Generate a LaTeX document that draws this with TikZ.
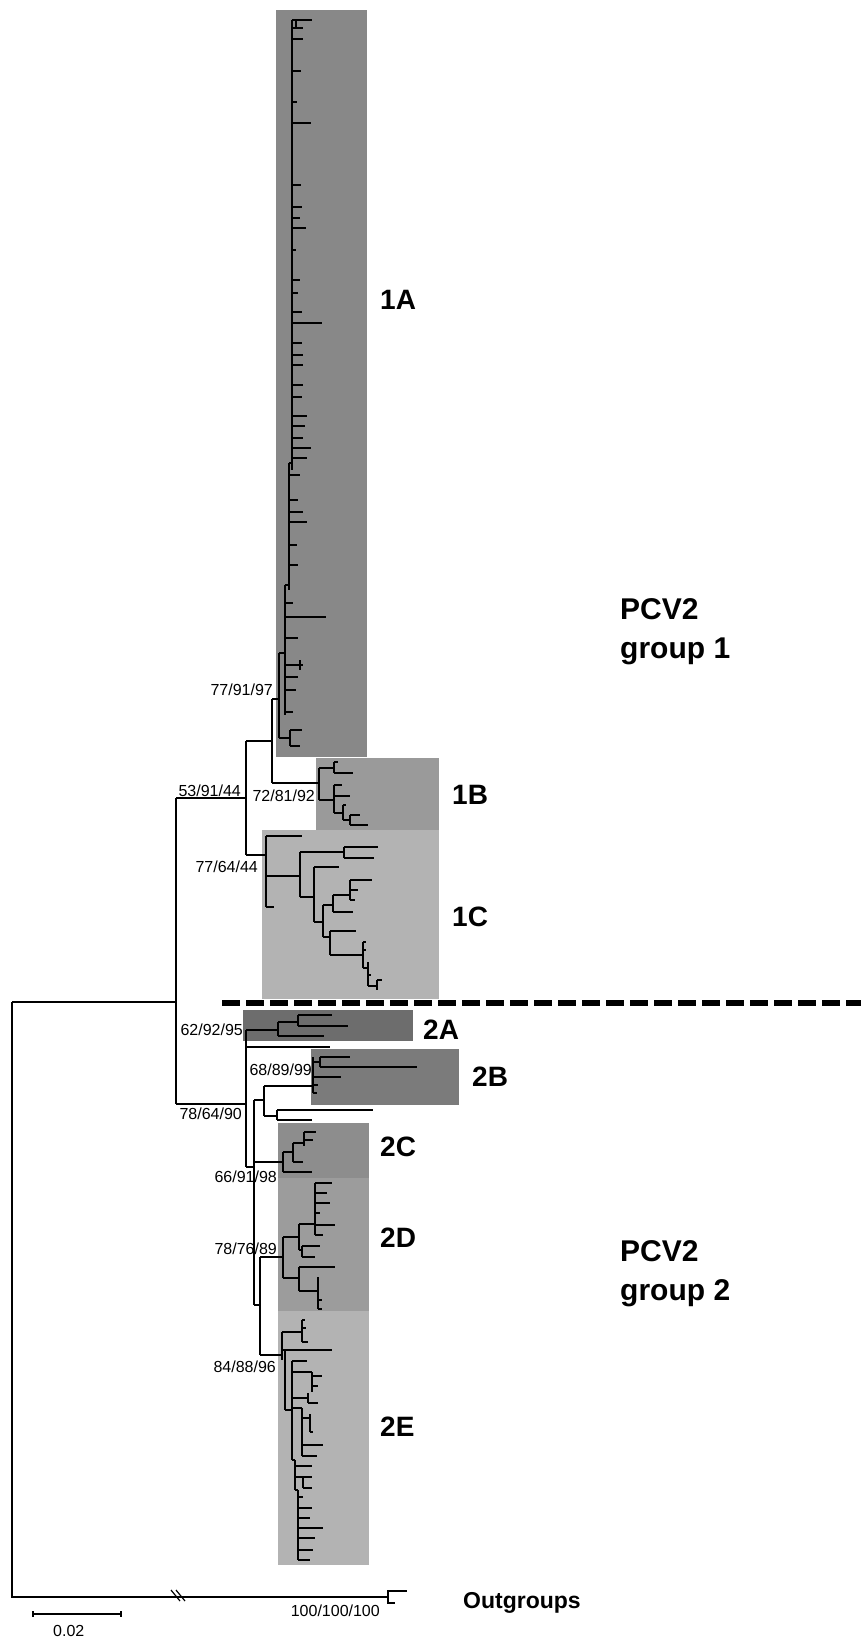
\documentclass[tikz,border=0pt]{standalone}
\usepackage{fontspec}
\setmainfont{Liberation Sans}
\usetikzlibrary{positioning}
\definecolor{shadeIA}{HTML}{888888}
\definecolor{shadeIB}{HTML}{9A9A9A}
\definecolor{shadeIC}{HTML}{B3B3B3}
\definecolor{shadeIIA}{HTML}{6D6D6D}
\definecolor{shadeIIB}{HTML}{7B7B7B}
\definecolor{shadeIIC}{HTML}{8D8D8D}
\definecolor{shadeIID}{HTML}{9C9C9C}
\definecolor{shadeIIE}{HTML}{B3B3B3}
\begin{document}
\begin{tikzpicture}[x=1pt,y=-1pt,
tree/.style={line width=1.7pt},
boot/.style={font=\fontsize{16}{18}\selectfont,inner sep=0pt,anchor=base east},
clabel/.style={font=\fontsize{28}{30}\selectfont\bfseries,inner sep=0pt,anchor=west},
grp/.style={font=\fontsize{30}{39}\selectfont\bfseries,inner sep=0pt,anchor=west,align=left}]
\useasboundingbox (0,0) rectangle (861,1640);
% clade boxes
\fill[shadeIA] (276,10) rectangle (367,757);
\fill[shadeIB] (316,758) rectangle (439,830);
\fill[shadeIC] (262,830) rectangle (439,999);
\fill[shadeIIA] (243,1010) rectangle (413,1041);
\fill[shadeIIB] (311,1049) rectangle (459,1105);
\fill[shadeIIC] (278,1123) rectangle (369,1178);
\fill[shadeIID] (278,1178) rectangle (369,1311);
\fill[shadeIIE] (278,1311) rectangle (369,1565);
% backbone
\coordinate (root) at (12,1002);
\coordinate (ingrp) at (176,1002);
\coordinate (outg) at (388,1597);
\draw[tree] (root) -- (ingrp);
\draw[tree] (root) |- (outg);
\draw[tree] (176,798) -- (176,1104);
\draw[line width=1.2pt] (171,1590) -- (180,1601) (176,1590) -- (185,1601);
\draw[tree] (outg) -- (388,1591) -- (407,1591) (outg) -- (388,1603) -- (395,1603);
% group 1
\draw[tree] (176,798) -- (246,798) (246,741) -- (246,855);
\draw[tree] (246,741) -- (272,741) (272,699) -- (272,783) (272,699) -- (279,699);
\draw[tree] (279,653) -- (279,738) (279,653) -- (285,653) (285,585) -- (285,715);
\draw[tree] (285,585) -- (289,585) (289,463) -- (289,590) (289,463) -- (292,463) (292,20) -- (292,470);
\draw[line width=2.6pt] (292,130) -- (292,175) (292,400) -- (292,460) (289,470) -- (289,560) (285,600) -- (285,650);
\foreach \y/\x in {20/312,28/303,39/303,71/301,102/297,123/311,185/301,207/302,218/300,
  228/306,250/296,280/300,293/298,312/302,323/322,343/302,355/303,365/303,385/303,397/302,
  416/307,426/305,438/303,448/311,458/307}
  \draw[tree] (292,\y) -- (\x,\y);
\draw[tree] (296,20) -- (296,28);
\foreach \y/\x in {475/300,500/298,512/303,522/307,545/297,565/298}
  \draw[tree] (289,\y) -- (\x,\y);
\foreach \y/\x in {603/293,617/326,638/298,665/303,677/298,690/296,712/293}
  \draw[tree] (285,\y) -- (\x,\y);
\draw[tree] (300,660) -- (300,670);
\draw[tree] (279,738) -- (290,738) (290,730) -- (290,746) (290,730) -- (302,730) (290,746) -- (300,746);
% 1B
\draw[tree] (272,783) -- (319,783) (319,768) -- (319,800);
\draw[tree] (319,768) -- (334,768) (334,762) -- (334,773) (334,762) -- (338,762) (334,773) -- (353,773);
\draw[tree] (319,800) -- (334,800) (334,785) -- (334,813) (334,785) -- (342,785) (334,796) -- (350,796);
\draw[tree] (334,813) -- (343,813) (343,805) -- (343,820) (343,805) -- (346,805) (343,820) -- (350,820);
\draw[tree] (350,815) -- (350,825) (350,815) -- (360,815) (350,825) -- (368,825);
% 1C
\draw[tree] (246,855) -- (266,855) (266,836) -- (266,907);
\draw[tree] (266,836) -- (302,836) (266,907) -- (274,907) (266,876) -- (300,876);
\draw[tree] (300,852) -- (300,897) (300,852) -- (344,852) (344,847) -- (344,858);
\draw[tree] (344,847) -- (378,847) (344,858) -- (374,858);
\draw[tree] (300,897) -- (314,897) (314,867) -- (314,922) (314,867) -- (339,867) (314,922) -- (323,922);
\draw[tree] (323,905) -- (323,937) (323,905) -- (333,905) (333,895) -- (333,912) (333,912) -- (353,912);
\draw[tree] (333,895) -- (350,895) (350,880) -- (350,900) (350,880) -- (372,880) (350,890) -- (358,890) (350,900) -- (355,900);
\draw[tree] (323,937) -- (330,937) (330,931) -- (330,955) (330,931) -- (356,931) (330,955) -- (363,955);
\draw[tree] (363,942) -- (363,968) (363,942) -- (366,942) (363,950) -- (366,950) (363,968) -- (368,968);
\draw[tree] (368,962) -- (368,986) (368,975) -- (371,975) (368,986) -- (377,986) (377,980) -- (377,990) (377,980) -- (382,980);
% group 2
\draw[tree] (176,1104) -- (246,1104) (246,1030) -- (246,1167);
\draw[tree] (246,1030) -- (278,1030) (278,1022) -- (278,1036) (278,1036) -- (324,1036);
\draw[tree] (278,1022) -- (298,1022) (298,1015) -- (298,1026) (298,1015) -- (332,1015) (298,1026) -- (348,1026);
\draw[tree] (246,1047) -- (330,1047);
\draw[tree] (246,1167) -- (254,1167) (254,1100) -- (254,1305);
\draw[line width=2.8pt] (254,1180) -- (254,1240);
% 2B and neighbours
\draw[tree] (254,1100) -- (264,1100) (264,1086) -- (264,1116) (264,1086) -- (313,1086) (313,1057) -- (313,1093);
\draw[tree] (313,1062) -- (320,1062) (320,1057) -- (320,1067) (320,1057) -- (350,1057) (320,1067) -- (417,1067);
\draw[tree] (313,1077) -- (341,1077) (313,1085) -- (318,1085) (313,1093) -- (317,1093);
\draw[tree] (264,1116) -- (277,1116) (277,1110) -- (277,1120) (277,1110) -- (373,1110) (277,1120) -- (312,1120);
% 2C
\draw[tree] (254,1162) -- (283,1162) (283,1152) -- (283,1172) (283,1172) -- (312,1172);
\draw[tree] (283,1152) -- (293,1152) (293,1143) -- (293,1162) (293,1162) -- (303,1162);
\draw[tree] (293,1143) -- (304,1143) (304,1132) -- (304,1146) (304,1132) -- (316,1132) (304,1140) -- (313,1140);
% 2D
\draw[tree] (254,1305) -- (260,1305) (260,1257) -- (260,1355) (260,1257) -- (283,1257) (283,1237) -- (283,1278);
\draw[tree] (283,1237) -- (299,1237) (299,1224) -- (299,1250) (299,1224) -- (315,1224) (315,1183) -- (315,1235);
\foreach \y/\x in {1183/332,1193/327,1203/330,1213/320,1225/335,1235/323}
  \draw[tree] (315,\y) -- (\x,\y);
\draw[tree] (299,1250) -- (302,1250) (302,1246) -- (302,1257) (302,1246) -- (320,1246) (302,1257) -- (315,1257);
\draw[tree] (283,1278) -- (299,1278) (299,1267) -- (299,1291) (299,1267) -- (335,1267) (299,1291) -- (318,1291);
\draw[tree] (318,1277) -- (318,1309) (318,1300) -- (322,1300) (318,1309) -- (322,1309);
% 2E
\draw[tree] (260,1355) -- (282,1355) (282,1332) -- (282,1360) (282,1332) -- (302,1332) (302,1320) -- (302,1342);
\draw[tree] (302,1320) -- (305,1320) (302,1328) -- (306,1328) (302,1342) -- (308,1342);
\draw[tree] (282,1350) -- (332,1350) (285,1350) -- (285,1410) (285,1410) -- (292,1410) (292,1361) -- (292,1460);
\draw[tree] (292,1361) -- (307,1361) (292,1372) -- (312,1372) (312,1372) -- (312,1392) (312,1376) -- (322,1376) (312,1386) -- (318,1386);
\draw[tree] (292,1398) -- (308,1398) (308,1393) -- (308,1403) (308,1403) -- (318,1403);
\draw[tree] (292,1408) -- (302,1408) (302,1408) -- (302,1456) (302,1418) -- (310,1418) (310,1414) -- (310,1432) (310,1432) -- (313,1432);
\draw[tree] (302,1445) -- (323,1445) (302,1456) -- (317,1456);
\draw[tree] (292,1460) -- (295,1460) (295,1460) -- (295,1490) (295,1466) -- (312,1466);
\draw[tree] (295,1477) -- (303,1477) (303,1477) -- (303,1488) (303,1477) -- (312,1477) (303,1488) -- (312,1488);
\draw[tree] (295,1490) -- (298,1490) (298,1490) -- (298,1560);
\foreach \y/\x in {1497/303,1508/312,1518/310,1528/323,1538/315,1550/313,1560/310}
  \draw[tree] (298,\y) -- (\x,\y);
% dashed divider
\draw[line width=5.5pt,dash pattern=on 18pt off 6pt] (222,1003) -- (861,1003);
% bootstrap values
\node[boot] (b1) at (273,695) {77/91/97};
\node[boot] (b2) at (241,796) {53/91/44};
\node[boot] (b3) at (315,801) {72/81/92};
\node[boot] (b4) at (258,872) {77/64/44};
\node[boot] (b5) at (243,1035) {62/92/95};
\node[boot] (b6) at (312,1075) {68/89/99};
\node[boot] (b7) at (242,1119) {78/64/90};
\node[boot] (b8) at (277,1182) {66/91/98};
\node[boot] (b9) at (277,1254) {78/76/89};
\node[boot] (b10) at (276,1372) {84/88/96};
\node[boot] (b11) at (380,1616) {100/100/100};
% clade labels
\node[clabel] (l1A) at (380,300) {1A};
\node[clabel] (l1B) at (452,795) {1B};
\node[clabel] (l1C) at (452,917) {1C};
\node[clabel] (l2A) at (423,1030) {2A};
\node[clabel] (l2B) at (472,1077) {2B};
\node[clabel] (l2C) at (380,1147) {2C};
\node[clabel] (l2D) at (380,1238) {2D};
\node[clabel] (l2E) at (380,1427) {2E};
\node[clabel,font=\fontsize{23}{26}\selectfont\bfseries] (lout) at (463,1603) {Outgroups};
\node[grp] (grp1) at (620,632) {PCV2\\group 1};
\node[grp] (grp2) at (620,1274) {PCV2\\group 2};
% scale bar
\draw[line width=1.2pt] (33,1614) -- (121,1614) (33,1611) -- (33,1617) (121,1611) -- (121,1617);
\node[boot,anchor=base west] (scl) at (53,1636) {0.02};
\end{tikzpicture}
\end{document}
